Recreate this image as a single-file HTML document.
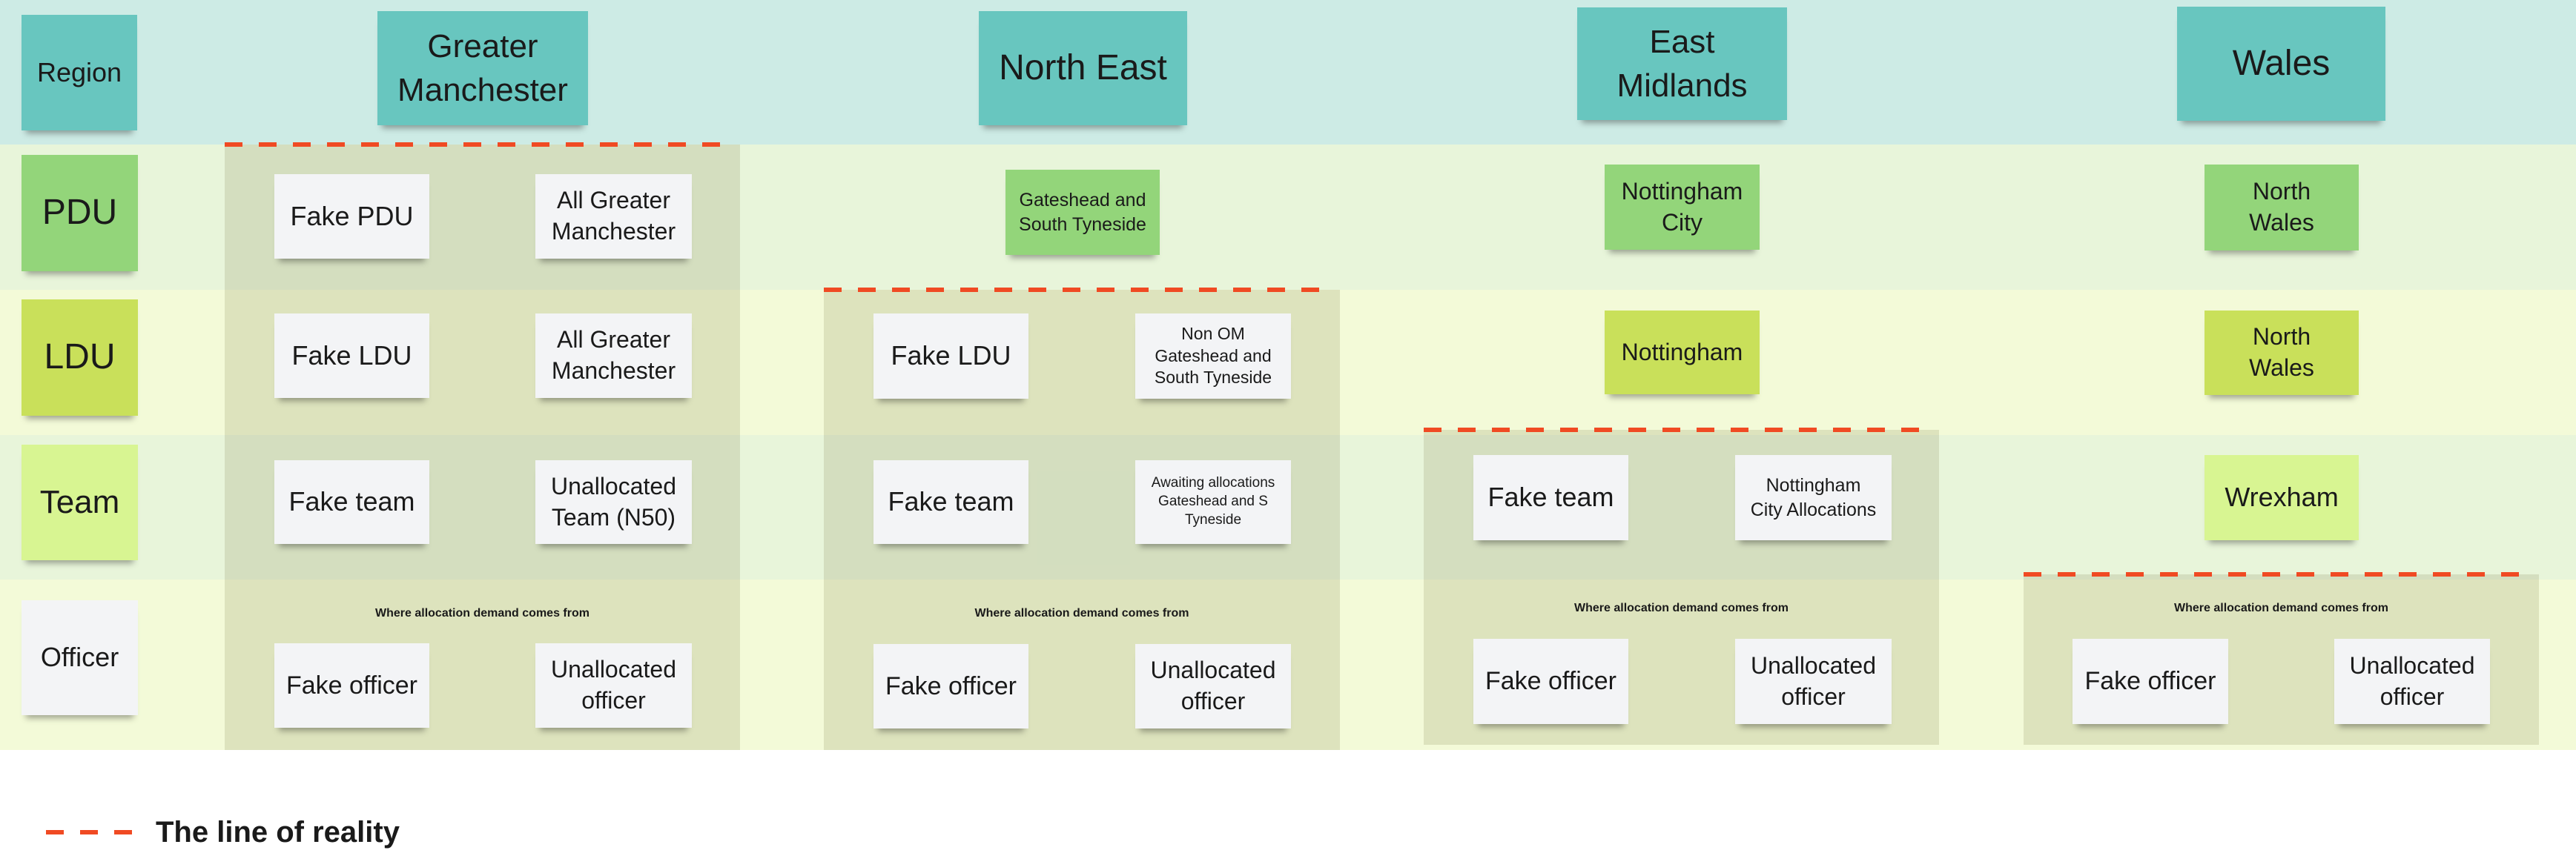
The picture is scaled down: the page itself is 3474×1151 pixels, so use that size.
<!DOCTYPE html>
<html><head><meta charset="utf-8"><style>
body{margin:0;width:3474px;height:1151px;position:relative;background:#fff;font-family:"Liberation Sans",sans-serif;overflow:hidden;color:#1a1a1a}
.b{position:absolute;left:0;width:3474px}
.c{position:absolute;background:rgba(110,110,60,0.17)}
.d{position:absolute;height:6px;background:repeating-linear-gradient(90deg,#f04a23 0 24px,transparent 24px 46px)}
.n{position:absolute;display:flex;align-items:center;justify-content:center;text-align:center;line-height:1.3;box-shadow:0 10px 8px -6px rgba(0,0,0,0.35)}
.w{background:#f3f4f6}
.t{background:#68c6bf}
.g{background:#93d57a}
.y{background:#c9e05a}
.l{background:#d8f592}
.s{position:absolute;font-weight:bold;font-size:16px;text-align:center}
</style></head><body>
<div class="b" style="top:0;height:195px;background:#cdebe5"></div>
<div class="b" style="top:195px;height:196px;background:#e8f5da"></div>
<div class="b" style="top:391px;height:196px;background:#f3fad8"></div>
<div class="b" style="top:587px;height:195px;background:#e8f5da"></div>
<div class="b" style="top:782px;height:230px;background:#f3fad8"></div>

<div class="c" style="left:303px;top:195px;width:695px;height:817px"></div>
<div class="c" style="left:1111px;top:391px;width:696px;height:621px"></div>
<div class="c" style="left:1920px;top:580px;width:695px;height:425px"></div>
<div class="c" style="left:2729px;top:775px;width:695px;height:230px"></div>
<div class="d" style="left:303px;top:192px;width:686px"></div>
<div class="d" style="left:1111px;top:388px;width:686px"></div>
<div class="d" style="left:1920px;top:577px;width:686px"></div>
<div class="d" style="left:2729px;top:772px;width:686px"></div>

<div class="n t" style="left:29px;top:20px;width:156px;height:156px;font-size:36px">Region</div>
<div class="n g" style="left:29px;top:209px;width:157px;height:157px;font-size:48px">PDU</div>
<div class="n y" style="left:29px;top:404px;width:157px;height:157px;font-size:48px">LDU</div>
<div class="n l" style="left:29px;top:600px;width:157px;height:156px;font-size:44px">Team</div>
<div class="n w" style="left:29px;top:810px;width:157px;height:155px;font-size:36px">Officer</div>

<div class="n t" style="left:509px;top:15px;width:284px;height:154px;font-size:44px;line-height:1.35">Greater<br>Manchester</div>
<div class="n t" style="left:1320px;top:15px;width:281px;height:154px;font-size:48px">North East</div>
<div class="n t" style="left:2127px;top:10px;width:283px;height:152px;font-size:44px;line-height:1.35">East<br>Midlands</div>
<div class="n t" style="left:2936px;top:9px;width:281px;height:154px;font-size:48px">Wales</div>

<div class="n w" style="left:370px;top:235px;width:209px;height:114px;font-size:36px">Fake PDU</div>
<div class="n w" style="left:722px;top:235px;width:211px;height:114px;font-size:32px">All Greater<br>Manchester</div>
<div class="n w" style="left:370px;top:423px;width:209px;height:114px;font-size:36px">Fake LDU</div>
<div class="n w" style="left:722px;top:423px;width:211px;height:114px;font-size:32px">All Greater<br>Manchester</div>
<div class="n w" style="left:370px;top:621px;width:209px;height:113px;font-size:36px">Fake team</div>
<div class="n w" style="left:722px;top:621px;width:211px;height:113px;font-size:32px">Unallocated<br>Team (N50)</div>
<div class="s" style="left:303px;width:695px;top:819px">Where allocation demand comes from</div>
<div class="n w" style="left:370px;top:868px;width:209px;height:114px;font-size:34px">Fake officer</div>
<div class="n w" style="left:722px;top:868px;width:211px;height:114px;font-size:32px">Unallocated<br>officer</div>

<div class="n g" style="left:1356px;top:229px;width:208px;height:115px;font-size:25px">Gateshead and<br>South Tyneside</div>
<div class="n w" style="left:1178px;top:423px;width:209px;height:115px;font-size:36px">Fake LDU</div>
<div class="n w" style="left:1531px;top:423px;width:210px;height:115px;font-size:23px">Non OM<br>Gateshead and<br>South Tyneside</div>
<div class="n w" style="left:1178px;top:621px;width:209px;height:113px;font-size:36px">Fake team</div>
<div class="n w" style="left:1531px;top:621px;width:210px;height:113px;font-size:19px">Awaiting allocations<br>Gateshead and S<br>Tyneside</div>
<div class="s" style="left:1111px;width:696px;top:819px">Where allocation demand comes from</div>
<div class="n w" style="left:1178px;top:869px;width:209px;height:114px;font-size:34px">Fake officer</div>
<div class="n w" style="left:1531px;top:869px;width:210px;height:114px;font-size:32px">Unallocated<br>officer</div>

<div class="n g" style="left:2164px;top:222px;width:209px;height:115px;font-size:32px">Nottingham<br>City</div>
<div class="n y" style="left:2164px;top:419px;width:209px;height:113px;font-size:32px">Nottingham</div>
<div class="n w" style="left:1987px;top:614px;width:209px;height:115px;font-size:36px">Fake team</div>
<div class="n w" style="left:2340px;top:614px;width:211px;height:115px;font-size:25px">Nottingham<br>City Allocations</div>
<div class="s" style="left:1920px;width:695px;top:812px">Where allocation demand comes from</div>
<div class="n w" style="left:1987px;top:862px;width:209px;height:115px;font-size:34px">Fake officer</div>
<div class="n w" style="left:2340px;top:862px;width:211px;height:115px;font-size:32px">Unallocated<br>officer</div>

<div class="n g" style="left:2973px;top:222px;width:208px;height:116px;font-size:32px">North<br>Wales</div>
<div class="n y" style="left:2973px;top:419px;width:208px;height:114px;font-size:32px">North<br>Wales</div>
<div class="n l" style="left:2973px;top:614px;width:208px;height:115px;font-size:36px">Wrexham</div>
<div class="s" style="left:2729px;width:695px;top:812px">Where allocation demand comes from</div>
<div class="n w" style="left:2795px;top:862px;width:210px;height:115px;font-size:34px">Fake officer</div>
<div class="n w" style="left:3148px;top:862px;width:210px;height:115px;font-size:32px">Unallocated<br>officer</div>

<div class="d" style="left:62px;top:1120px;width:118px"></div>
<div style="position:absolute;left:210px;top:1098px;font-size:40px;font-weight:bold;line-height:50px">The line of reality</div>
</body></html>
